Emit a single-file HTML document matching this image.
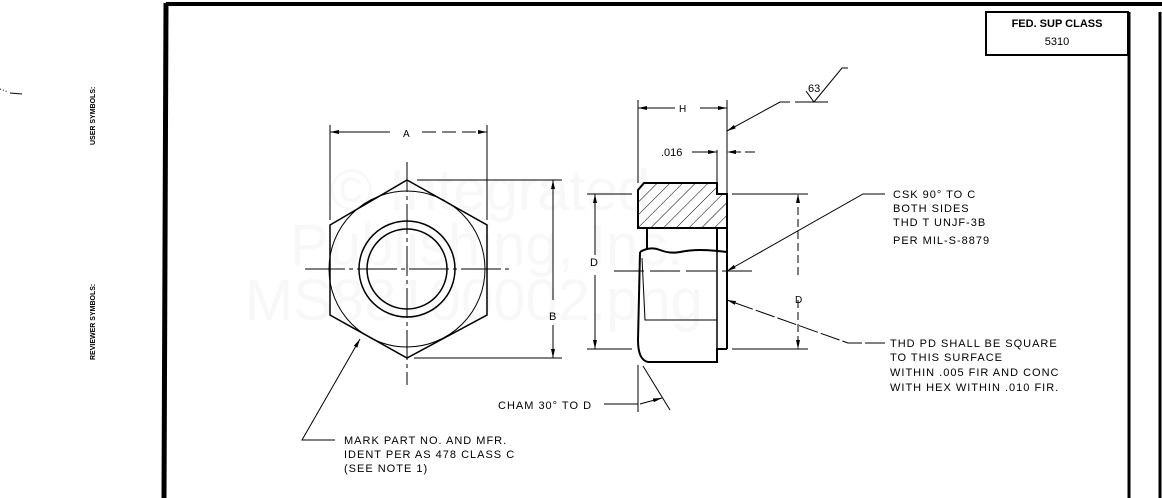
<!DOCTYPE html>
<html><head><meta charset="utf-8"><style>
html,body{margin:0;padding:0;background:#fff;}
svg{display:block;}
text{font-family:"Liberation Sans",sans-serif;fill:#000;}
.t{font-size:11px;letter-spacing:1px;}
.wm{font-size:58px;fill:#f8f8f8;font-family:"Liberation Sans",sans-serif;}
</style></head><body>
<svg width="1162" height="498" viewBox="0 0 1162 498" xmlns="http://www.w3.org/2000/svg">
<defs>
<marker id="ar" markerWidth="10" markerHeight="6" refX="9" refY="3" orient="auto" markerUnits="userSpaceOnUse"><path d="M0,1 L9,3 L0,5z" fill="#000"/></marker>
<pattern id="h" width="9" height="9" patternUnits="userSpaceOnUse" patternTransform="rotate(45)"><line x1="0" y1="0" x2="0" y2="9" stroke="#000" stroke-width="1"/></pattern>
</defs>
<text class="wm" x="330" y="210">© Integrated</text>
<text class="wm" x="290" y="265">Publishing, Inc.</text>
<text class="wm" x="245" y="320">MS88100002.png</text>
<g stroke="#000" fill="none">
<line x1="166" y1="4" x2="1162" y2="4" stroke-width="4"/>
<line x1="166" y1="3" x2="164" y2="498" stroke-width="5"/>
<line x1="1129" y1="12" x2="1129" y2="498" stroke-width="3"/>
<line x1="1160" y1="12" x2="1160" y2="498" stroke-width="3"/>
<rect x="986" y="12" width="142" height="43" stroke-width="2"/>
<path d="M0,89 L8,92" stroke-width="1" stroke-dasharray="1,2"/>
<path d="M10,93 L22,94" stroke-width="1"/>
</g>
<text x="1057" y="27" font-size="11" font-weight="bold" text-anchor="middle">FED. SUP CLASS</text>
<text x="1057" y="45" font-size="11" text-anchor="middle">5310</text>
<text transform="translate(95,145) rotate(-90)" font-size="7" font-weight="bold">USER SYMBOLS:</text>
<text transform="translate(95,360) rotate(-90)" font-size="7" font-weight="bold">REVIEWER SYMBOLS:</text>

<g stroke="#000" fill="none" stroke-width="1.5">
<polygon points="407,180 487,225 487,315 407,358 330,315 330,225"/>
<circle cx="407" cy="269" r="78" stroke-width="1"/>
<circle cx="407" cy="269" r="48"/>
<circle cx="407" cy="269" r="40"/>
</g>
<g stroke="#000" stroke-width="1" fill="none">
<line x1="407" y1="162" x2="407" y2="385" stroke-dasharray="30,4,4,4"/>
<line x1="305" y1="269" x2="512" y2="269" stroke-dasharray="40,4,4,4"/>
<line x1="330" y1="125" x2="330" y2="220"/>
<line x1="487" y1="125" x2="487" y2="220"/>
<line x1="390" y1="132" x2="330" y2="132" marker-end="url(#ar)"/>
<line x1="422" y1="132" x2="487" y2="132" stroke-dasharray="14,6" marker-end="url(#ar)"/>
<line x1="417" y1="180" x2="562" y2="180"/>
<line x1="414" y1="358" x2="562" y2="358"/>
<line x1="553" y1="300" x2="553" y2="180" marker-end="url(#ar)"/>
<line x1="553" y1="325" x2="553" y2="358" marker-end="url(#ar)"/>
<polyline points="335,440 302,440 360,339" marker-end="url(#ar)"/>
</g>
<text x="403" y="137" font-size="10">A</text>
<text x="549" y="320" font-size="11">B</text>
<text class="t" x="344" y="444">MARK PART NO. AND MFR.</text>
<text class="t" x="344" y="458">IDENT PER AS 478 CLASS C</text>
<text class="t" x="344" y="472">(SEE NOTE 1)</text>

<g stroke="#000" fill="none" stroke-width="2">
<path d="M644,183 L717,183 L717,194 L727,194 L727,228 L638,228 L638,190 Z" fill="url(#h)"/>
<path d="M647,228 L717,228 L717,252" />
<path d="M647,228 L647,250"/>
<path d="M640,252 Q650,246 660,250 T680,252 T700,250 T727,252"/>
<line x1="727" y1="194" x2="727" y2="349"/>
<path d="M640,252 L638,340 Q638,360 648,362 L717,362 L717,349 L727,349"/>
<line x1="717" y1="252" x2="717" y2="362" stroke-width="1.5"/>
<path d="M642,258 L645,320 L717,320" stroke-width="1"/>
<line x1="638" y1="100" x2="638" y2="183" stroke-width="1"/>
<line x1="727" y1="100" x2="727" y2="194" stroke-width="1"/>
<line x1="717" y1="150" x2="717" y2="183" stroke-width="1"/>
</g>
<g stroke="#000" stroke-width="1" fill="none">
<line x1="675" y1="108" x2="638" y2="108" marker-end="url(#ar)"/>
<line x1="700" y1="108" x2="727" y2="108" marker-end="url(#ar)"/>
<line x1="692" y1="152" x2="717" y2="152" marker-end="url(#ar)"/>
<line x1="755" y1="152" x2="727" y2="152" stroke-dasharray="10,4" marker-end="url(#ar)"/>
<polyline points="790,102 780,102 727,131" marker-end="url(#ar)"/>
<line x1="795" y1="102" x2="828" y2="102"/>
<polyline points="806,91 814,102 842,68 848,68"/>
<line x1="587" y1="194" x2="632" y2="194"/>
<line x1="587" y1="349" x2="632" y2="349"/>
<line x1="732" y1="194" x2="808" y2="194"/>
<line x1="732" y1="349" x2="808" y2="349"/>
<line x1="595" y1="255" x2="595" y2="194" marker-end="url(#ar)"/>
<line x1="595" y1="275" x2="595" y2="349" marker-end="url(#ar)"/>
<line x1="798" y1="275" x2="798" y2="194" stroke-dasharray="8,4" marker-end="url(#ar)"/>
<line x1="798" y1="300" x2="798" y2="349" stroke-dasharray="8,4" marker-end="url(#ar)"/>
<line x1="614" y1="271" x2="752" y2="271" stroke-dasharray="30,6"/>
<polyline points="885,194 863,194 727,271" marker-end="url(#ar)"/>
<polyline points="885,343 848,343 727,300" stroke-dasharray="20,3" marker-end="url(#ar)"/>
<line x1="638" y1="365" x2="638" y2="412"/>
<line x1="643" y1="366" x2="670" y2="410"/>
<line x1="604" y1="404" x2="638" y2="404"/>
<line x1="640" y1="404" x2="662" y2="398" marker-end="url(#ar)"/>
</g>
<text x="679" y="112" font-size="10">H</text>
<text x="661" y="156" font-size="11">.016</text>
<text x="808" y="92" font-size="11">63</text>
<text x="590" y="266" font-size="11">D</text>
<text x="795" y="303" font-size="10">D</text>
<text class="t" x="893" y="198">CSK 90° TO C</text>
<text class="t" x="893" y="212">BOTH SIDES</text>
<text class="t" x="893" y="226">THD T UNJF-3B</text>
<text class="t" x="893" y="244">PER MIL-S-8879</text>
<text class="t" x="890" y="347">THD PD SHALL BE SQUARE</text>
<text class="t" x="890" y="361">TO THIS SURFACE</text>
<text class="t" x="890" y="376">WITHIN .005 FIR AND CONC</text>
<text class="t" x="890" y="391">WITH HEX WITHIN .010 FIR.</text>
<text class="t" x="498" y="409">CHAM 30° TO D</text>
</svg>
</body></html>
